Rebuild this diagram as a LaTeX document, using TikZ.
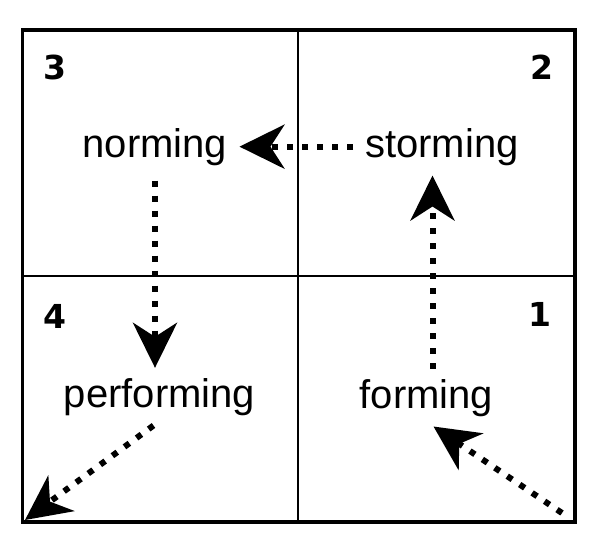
\documentclass[tikz,border=0pt]{standalone}
\usepackage{fontspec}
\setmainfont{Liberation Sans}
\newfontfamily\numfont{DejaVu Sans}
\usetikzlibrary{arrows.meta, calc}

\begin{document}
\begin{tikzpicture}[
    x=1pt, y=-1pt,
    phase/.style={font=\fontsize{40}{48}\selectfont, inner xsep=12pt, inner ysep=10pt, anchor=base},
    num/.style={font=\numfont\bfseries\fontsize{33}{40}\selectfont},
    flow/.style={line width=6pt, dash pattern=on 6pt off 9pt, -{Stealth[length=45pt, width=44pt, inset=14pt]}}
]
    \useasboundingbox (0,0) rectangle (600,552);

    % Frame
    \draw[line width=3.5pt] (22.5,30) rectangle (575,522);
    \draw[line width=1.2pt] (298,30) -- (298,522) (22.5,276) -- (575,276);

    % Quadrant numbers
    \node[num] (n3) at (54.5,67) {3};
    \node[num] (n2) at (541.5,67) {2};
    \node[num] (n4) at (55,316) {4};
    \node[num] (n1) at (540,314) {1};

    % Phases
    \node (norm) [phase] at (155,157) {norming};
    \node (storm) [phase] at (442,157) {storming};
    \node (perform) [phase] at (159.5,407) {performing};
    \node (form) [phase] at (426.5,408) {forming};
    \coordinate (start) at (562,513);
    \coordinate (finish) at (25,520);

    % Flows
    \draw[flow] (start) -- ([xshift=7pt]form.south);
    \draw[flow] ([xshift=6pt]form.north) -- ([xshift=6pt]form.north |- storm.south);
    \draw[flow] (storm) -- (norm);
    \draw[flow, shorten <=5pt] (norm.south) -- (norm.south |- perform.north);
    \draw[flow] ([xshift=-6pt]perform.south) -- (finish);

\end{tikzpicture}
\end{document}
